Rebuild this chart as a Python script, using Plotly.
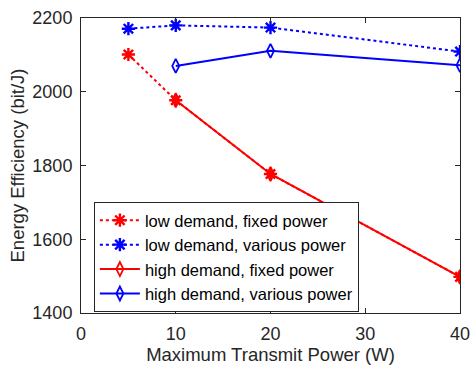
import plotly.graph_objects as go

x_low = [5, 10, 20, 40]
low_fixed = [2101, 1977, 1777, 1498]
low_various = [2171, 2180, 2174, 2109]
x_high = [10, 20, 40]
high_fixed = [1977, 1777, 1498]
high_various = [2070, 2111, 2072]

x_ticks = [0, 10, 20, 30, 40]
y_ticks = [1400, 1600, 1800, 2000, 2200]

RED = "#ff0000"
BLUE = "#0000ff"
FONT = "Liberation Sans, Arial, sans-serif"
AX = "#262626"

fig = go.Figure()
fig.add_trace(go.Scatter(x=x_low, y=low_fixed, mode="lines+markers",
                         name="low demand, fixed power",
                         line=dict(color=RED, width=2, dash="dot"),
                         marker=dict(symbol="asterisk-open", size=11, color=RED, line=dict(color=RED, width=2.4))))
fig.add_trace(go.Scatter(x=x_low, y=low_various, mode="lines+markers",
                         name="low demand, various power",
                         line=dict(color=BLUE, width=2, dash="dot"),
                         marker=dict(symbol="asterisk-open", size=11, color=BLUE, line=dict(color=BLUE, width=2.4))))
fig.add_trace(go.Scatter(x=x_high, y=high_fixed, mode="lines+markers",
                         name="high demand, fixed power",
                         line=dict(color=RED, width=2),
                         marker=dict(symbol="diamond-tall-open", size=10, color=RED, line=dict(color=RED, width=1.8))))
fig.add_trace(go.Scatter(x=x_high, y=high_various, mode="lines+markers",
                         name="high demand, various power",
                         line=dict(color=BLUE, width=2),
                         marker=dict(symbol="diamond-tall-open", size=10, color=BLUE, line=dict(color=BLUE, width=1.8))))

axis_common = dict(showline=True, linecolor=AX, linewidth=1, mirror="ticks",
                   ticks="inside", ticklen=5, tickcolor=AX, showgrid=False, zeroline=False,
                   automargin=False, tickfont=dict(family=FONT, size=18, color=AX))

fig.update_layout(
    width=473, height=367,
    margin=dict(l=81, r=13, t=18, b=54),
    paper_bgcolor="white", plot_bgcolor="white",
    font=dict(family=FONT, color=AX),
    xaxis=dict(range=[0, 40], tickvals=x_ticks, ticklabelstandoff=4,
               title=dict(text="Maximum Transmit Power (W)", font=dict(family=FONT, size=18.5, color=AX), standoff=2),
               **axis_common),
    yaxis=dict(range=[1400, 2200], tickvals=y_ticks, ticklabelstandoff=4,
               title=dict(text="Energy Efficiency (bit/J)", font=dict(family=FONT, size=18.5, color=AX), standoff=2),
               **axis_common),
    legend=dict(x=0.034, y=0.19, xanchor="left", yanchor="middle",
                bgcolor="white", bordercolor=AX, borderwidth=1,
                font=dict(family=FONT, size=16.5, color="#000000"),
                itemwidth=40, tracegroupgap=0),
    showlegend=True,
)

fig.write_html("out.html")
